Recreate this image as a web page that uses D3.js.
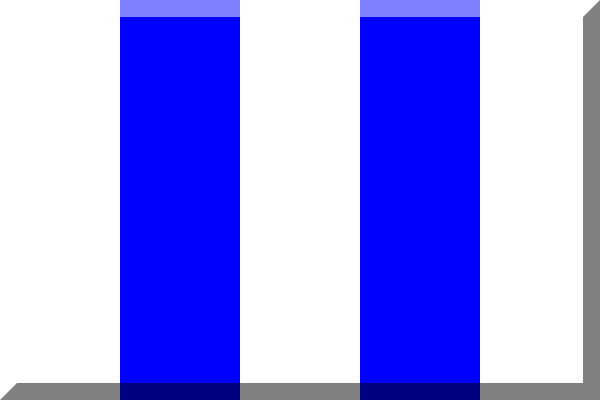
<!DOCTYPE html>
<html>
<head>
<meta charset="utf-8">
<script src="https://cdn.jsdelivr.net/npm/d3@7"></script>
<style>
  html, body { margin: 0; padding: 0; background: #fff; overflow: hidden; }
  svg { display: block; }
</style>
</head>
<body>
<div id="chart"></div>
<script>
// five vertical bands, left to right
var stripes = ["s1", "s2", "s3", "s4", "s5"];
var stripeColor = ["white", "blue", "white", "blue", "white"];

var width = 600;
var height = 400;
var depth = 17; // shadow thickness

var fill = { white: "#ffffff", blue: "#0000ff" };
var topTint = { white: "#ffffff", blue: "#8080ff" };
var bottomTint = { white: "#808080", blue: "#000080" };
var shadow = "#808080";

var x = d3.scaleBand()
	.domain(stripes)
	.range([0, width])
	.padding(0);

var y = d3.scaleLinear()
	.domain([0, 1])
	.range([height, 0]);

var svg = d3.select("#chart").append("svg")
	.attr("width", width)
	.attr("height", height)
	.attr("shape-rendering", "crispEdges");

/* stripes */
svg.append("g").selectAll("rect")
	.data(stripes).enter()
	.append("rect")
	.attr("x", d => x(d))
	.attr("y", y(1))
	.attr("width", x.bandwidth())
	.attr("height", y(0) - y(1))
	.style("fill", (d, i) => fill[stripeColor[i]]);

/* light top edge on the blue stripes */
svg.append("g").selectAll("rect")
	.data(stripes).enter()
	.append("rect")
	.attr("x", d => x(d))
	.attr("y", y(1))
	.attr("width", x.bandwidth())
	.attr("height", depth)
	.style("fill", (d, i) => topTint[stripeColor[i]]);

/* bottom shadow band */
svg.append("g").selectAll("rect")
	.data(stripes).enter()
	.append("rect")
	.attr("x", d => x(d))
	.attr("y", y(0) - depth)
	.attr("width", x.bandwidth())
	.attr("height", depth)
	.style("fill", (d, i) => bottomTint[stripeColor[i]]);

/* right shadow */
var right = x.range()[1];
svg.append("rect")
	.attr("x", right - depth)
	.attr("y", y(1) + depth)
	.attr("width", depth)
	.attr("height", y(0) - y(1) - depth)
	.style("fill", shadow);

// slanted corners
var slants = [
	[[right - depth, y(1) + depth], [right, y(1)], [right, y(1) + depth]],
	[[0, y(0)], [depth, y(0) - depth], [0, y(0) - depth]]
];
svg.append("g").selectAll("path")
	.data(slants).enter()
	.append("path")
	.attr("shape-rendering", "auto")
	.attr("d", (d, i) => d3.line()(d) + "Z")
	.style("fill", (d, i) => i == 0 ? shadow : "#ffffff");
</script>
</body>
</html>
